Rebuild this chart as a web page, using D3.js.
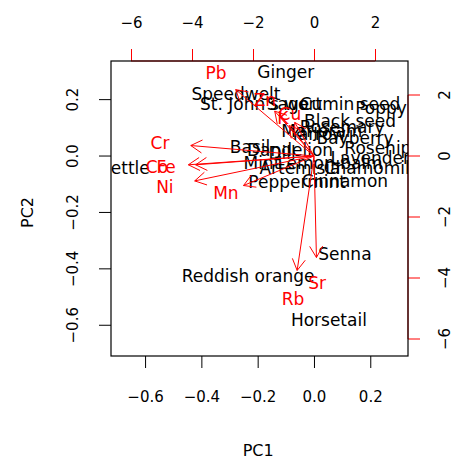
<!DOCTYPE html>
<html>
<head>
<meta charset="utf-8">
<script src="https://cdn.jsdelivr.net/npm/d3@7"></script>
<style>
  body { margin: 0; background: #fff; }
  text { font-family: "DejaVu Sans", sans-serif; }
</style>
</head>
<body>
<svg id="chart" width="452" height="458"></svg>
<script>
// scores (PC1, PC2) for each sample
const samples = ["Ginger", "Speedwelt", "St. John's wort", "Sage", "Cumin seed", "Poppy seed",
  "Black seed", "Rosemary", "Marjoram", "Yarrow", "Bayberry", "Basil", "Dandelion", "Dill",
  "Rosehip", "Lavender", "Mint", "Artemisia", "Lemon balm", "Chamomile", "Peppermint",
  "Cinnamon", "Nettle", "Reddish orange", "Senna", "Horsetail"]
const pc1 = [-0.100, -0.277, -0.188, -0.092, 0.128, 0.320, 0.128, 0.100, 0.028, 0.014, 0.146,
  -0.227, -0.085, -0.113, 0.227, 0.200, -0.185, -0.050, 0.057, 0.206, -0.060, 0.110, -0.675,
  -0.234, 0.110, 0.053]
const pc2 = [0.298, 0.220, 0.184, 0.184, 0.184, 0.170, 0.124, 0.103, 0.089, 0.078, 0.064,
  0.032, 0.021, 0.010, 0.028, -0.007, -0.025, -0.043, -0.025, -0.043, -0.092, -0.089, -0.043,
  -0.426, -0.348, -0.582]

// loadings of the elements
const elements = ["Pb", "Zn", "Cu", "K", "Cr", "Co", "Fe", "Ni", "Mn", "Rb", "Sr"]
const load1 = [-3.21, -1.61, -0.79, -1.02, -5.05, -5.15, -4.85, -4.89, -2.89, -0.69, 0.10]
const load2 = [2.72, 1.84, 1.38, 1.25, 0.43, -0.36, -0.36, -1.02, -1.21, -4.69, -4.16]

const xTicks = [-0.6, -0.4, -0.2, 0.0, 0.2]
const yTicks = [-0.6, -0.4, -0.2, 0.0, 0.2]
const loadTicks = [-6, -4, -2, 0, 2]

let margin = { top: 61, left: 111, right: 44, bottom: 102 },
  width = 452 - margin.left - margin.right,
  height = 458 - margin.top - margin.bottom

let svg = d3.select('#chart')

let x = d3.scaleLinear().domain([-0.721, 0.334]).range([margin.left, margin.left + width])
let y = d3.scaleLinear().domain([-0.709, 0.337]).range([margin.top + height, margin.top])
let x2 = d3.scaleLinear().domain([-6.656, 3.082]).range([margin.left, margin.left + width])
let y2 = d3.scaleLinear().domain([-6.557, 3.115]).range([margin.top + height, margin.top])

const fmt = v => d3.format('.1f')(v).replace('-', '\u2212')
const fmtInt = v => String(v).replace('-', '\u2212')
const tick = 12

// R-style axis: line from first to last tick, no domain path
function rAxis(axis, scale, ticks, format, pos, col) {
  let g = svg.append('g')
    .attr('transform', pos)
    .call(axis(scale).tickValues(ticks).tickSize(tick).tickPadding(15).tickFormat(format))
  g.select('.domain').remove()
  g.selectAll('.tick line').attr('stroke', col)
  g.selectAll('.tick text').attr('fill', 'black').style('font-size', '15px')
  return g
}

let bottom = margin.top + height, right = margin.left + width

rAxis(d3.axisBottom, x, xTicks, fmt, `translate(0,${bottom})`, 'black')
  .selectAll('.tick text').attr('y', 41).attr('dy', '0.35em')

let gl = rAxis(d3.axisLeft, y, yTicks, fmt, `translate(${margin.left},0)`, 'black')
gl.selectAll('.tick').attr('transform', null)
gl.selectAll('.tick line').attr('y1', d => y(d)).attr('y2', d => y(d))
gl.selectAll('.tick text')
  .attr('x', -38).attr('y', d => y(d)).attr('dy', '0.35em')
  .attr('text-anchor', 'middle')
  .attr('transform', d => `rotate(-90,-38,${y(d)})`)

rAxis(d3.axisTop, x2, loadTicks, fmtInt, `translate(0,${margin.top})`, 'red')
  .selectAll('.tick text').attr('y', -38).attr('dy', '0.35em')

let gr = rAxis(d3.axisRight, y2, loadTicks, fmtInt, `translate(${right},0)`, 'red')
gr.selectAll('.tick').attr('transform', null)
gr.selectAll('.tick line').attr('y1', d => y2(d)).attr('y2', d => y2(d))
gr.selectAll('.tick text')
  .attr('x', 37).attr('y', d => y2(d)).attr('dy', '0.35em')
  .attr('text-anchor', 'middle')
  .attr('transform', d => `rotate(-90,37,${y2(d)})`)

// axis lines between first and last tick
svg.append('line').attr('x1', x2(-6)).attr('x2', x2(2)).attr('y1', margin.top).attr('y2', margin.top).attr('stroke', 'red')
svg.append('line').attr('x1', right).attr('x2', right).attr('y1', y2(-6)).attr('y2', y2(2)).attr('stroke', 'red')

// box
svg.append('rect')
  .attr('x', margin.left).attr('y', margin.top)
  .attr('width', width).attr('height', height)
  .attr('fill', 'none').attr('stroke', 'black').attr('stroke-width', 1.2)

// axis titles
svg.append('text').attr('x', x(-0.2) + 0.5).attr('y', 450).attr('dy', '0.35em')
  .attr('text-anchor', 'middle').style('font-size', '16px').text('PC1')
svg.append('text')
  .attr('transform', `translate(27,${y(-0.2)}) rotate(-90)`).attr('dy', '0.35em')
  .attr('text-anchor', 'middle').style('font-size', '16px').text('PC2')

svg.append('clipPath').attr('id', 'plotclip')
  .append('rect').attr('x', margin.left).attr('y', margin.top).attr('width', width).attr('height', height)

let plot = svg.append('g').attr('clip-path', 'url(#plotclip)')

// sample labels
plot.selectAll('text.sample')
  .data(samples)
  .enter().append('text')
  .attr('class', 'sample')
  .attr('x', (d, i) => x(pc1[i]))
  .attr('y', (d, i) => y(pc2[i]))
  .attr('dy', '0.35em')
  .attr('text-anchor', 'middle')
  .style('font-size', '17px')
  .attr('fill', 'black')
  .text(d => d)

// element labels
plot.selectAll('text.elem')
  .data(elements)
  .enter().append('text')
  .attr('class', 'elem')
  .attr('x', (d, i) => x2(load1[i]))
  .attr('y', (d, i) => y2(load2[i]))
  .attr('dy', '0.35em')
  .attr('text-anchor', 'middle')
  .style('font-size', '17px')
  .attr('fill', 'red')
  .text(d => d)

// arrows at 0.8 * loadings
let headLen = 13, headAng = Math.PI / 6
elements.forEach(function(d, i) {
  let x0 = x2(0), y0 = y2(0)
  let x1 = x2(load1[i] * 0.8), yy1 = y2(load2[i] * 0.8)
  let ang = Math.atan2(yy1 - y0, x1 - x0)
  let path = d3.path()
  path.moveTo(x0, y0); path.lineTo(x1, yy1)
  path.moveTo(x1 - headLen * Math.cos(ang - headAng), yy1 - headLen * Math.sin(ang - headAng))
  path.lineTo(x1, yy1)
  path.lineTo(x1 - headLen * Math.cos(ang + headAng), yy1 - headLen * Math.sin(ang + headAng))
  plot.append('path').attr('d', path.toString())
    .attr('fill', 'none').attr('stroke', 'red').attr('stroke-width', 1)
})
</script>
</body>
</html>
